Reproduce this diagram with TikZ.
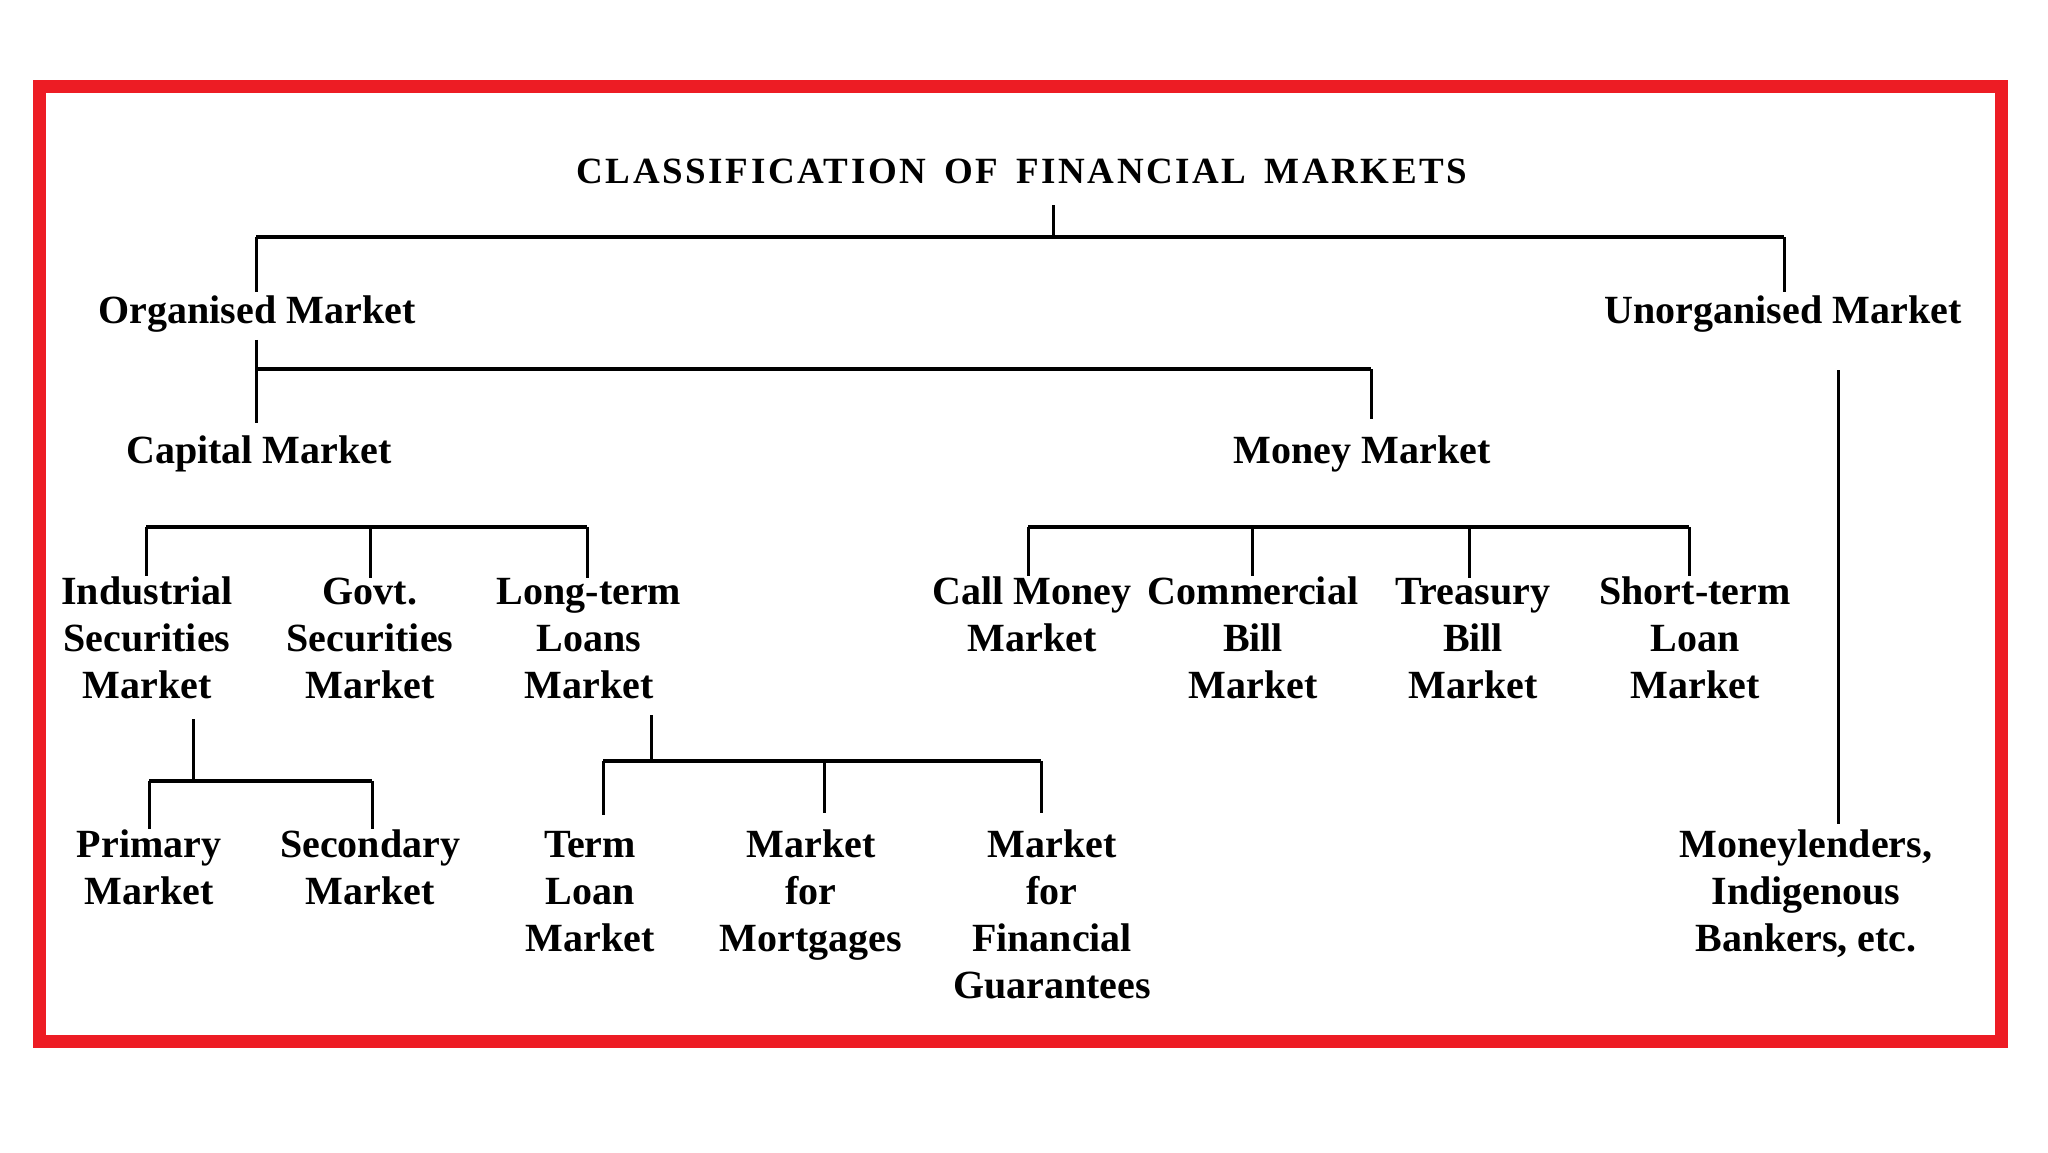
\documentclass[tikz,border=0pt]{standalone}
\usepackage{fontspec}
\setmainfont{Liberation Serif}
\newfontfamily\titlefont{Liberation Serif}[LetterSpace=7.0]
\definecolor{frame}{RGB}{237,28,36}
\begin{document}
\begin{tikzpicture}[x=0.5pt,y=-0.5pt,
  lbl/.style={font=\fontsize{20}{23.5}\selectfont\bfseries, align=center, anchor=base, inner sep=0pt, outer sep=0pt},
  hline/.style={line width=2pt, black},
  vline/.style={line width=1.5pt, black},
  redframe/.style={line width=6.5pt, draw=frame}]
\useasboundingbox (0,0) rectangle (2048,1152);
\fill[white] (0,0) rectangle (2048,1152);
\draw[redframe] (39,86) rectangle (2001,1041);

% nodes (anchor=base is the baseline of the last line)
\node[anchor=base, inner sep=0pt, outer sep=0pt] (title) at (1022,183)
  {\titlefont\bfseries\fontsize{18.5}{20}\selectfont CLASSIFICATION\hspace{9pt}OF\hspace{9pt}FINANCIAL\hspace{9pt}MARKETS};
\node[lbl] (org) at (257,323) {Organised Market};
\node[lbl] (unorg) at (1783,323) {Unorganised Market};
\node[lbl] (cap) at (259,463) {Capital Market};
\node[lbl] (mon) at (1362,463) {Money Market};
\node[lbl] (ind) at (147,698) {Industrial\\Securities\\Market};
\node[lbl] (gov) at (370,698) {Govt.\\Securities\\Market};
\node[lbl] (ltl) at (589,698) {Long-term\\Loans\\Market};
\node[lbl] (call) at (1032,651) {Call Money\\Market};
\node[lbl] (comm) at (1253,698) {Commercial\\Bill\\Market};
\node[lbl] (tre) at (1473,698) {Treasury\\Bill\\Market};
\node[lbl] (stl) at (1695,698) {Short-term\\Loan\\Market};
\node[lbl] (pri) at (149,904) {Primary\\Market};
\node[lbl] (sec) at (370,904) {Secondary\\Market};
\node[lbl] (term) at (590,951) {Term\\Loan\\Market};
\node[lbl] (mort) at (811,951) {Market\\for\\Mortgages};
\node[lbl] (fin) at (1052,998) {Market\\for\\Financial\\Guarantees};
\node[lbl] (mlend) at (1806,951) {Moneylenders,\\Indigenous\\Bankers, etc.};

% junction coordinates
\coordinate (jT) at (1053,237);
\coordinate (jOrg) at (256,237);
\coordinate (jUn) at (1784,237);
\coordinate (jOC) at (256,369);
\coordinate (jOM) at (1371,369);
\coordinate (c1) at (146,527);
\coordinate (c2) at (370,527);
\coordinate (c3) at (587,527);
\coordinate (m1) at (1028,527);
\coordinate (m2) at (1252,527);
\coordinate (m3) at (1469,527);
\coordinate (m4) at (1689,527);
\coordinate (iD) at (193,781);
\coordinate (p1) at (149,781);
\coordinate (p2) at (372,781);
\coordinate (lD) at (651,761);
\coordinate (t1) at (603,761);
\coordinate (t2) at (824,761);
\coordinate (t3) at (1041,761);
\coordinate (uD) at (1838,370);

% top level
\draw[vline, shorten <=11pt] (jT |- title.south) -- (jT);
\draw[hline, line width=1.6pt] (jOrg) -- (jUn);
\draw[vline, shorten >=1.5pt] (jOrg) -- (jOrg |- org.north);
\draw[vline, shorten >=1.5pt] (jUn) -- (jUn |- unorg.north);

% organised -> capital / money
\draw[vline, shorten <=4pt, shorten >=6pt] (jOC |- org.south) -- (jOC |- cap.north);
\draw[hline] (jOC) -- (jOM);
\draw[vline, shorten >=8pt] (jOM) -- (jOM |- mon.north);

% capital market children
\draw[hline] (c1) -- (c3);
\draw[vline] (c1) -- (c1 |- ind.north);
\draw[vline] (c2) -- (c2 |- gov.north);
\draw[vline] (c3) -- (c3 |- ltl.north);

% money market children
\draw[hline, line width=1.8pt] (m1) -- (m4);
\draw[vline] (m1) -- (m1 |- call.north);
\draw[vline] (m2) -- (m2 |- comm.north);
\draw[vline] (m3) -- (m3 |- tre.north);
\draw[vline] (m4) -- (m4 |- stl.north);

% industrial securities -> primary / secondary
\draw[vline, shorten <=10.5pt] (iD |- ind.south) -- (iD);
\draw[hline] (p1) -- (p2);
\draw[vline] (p1) -- (p1 |- pri.north);
\draw[vline] (p2) -- (p2 |- sec.north);

% long-term loans -> three
\draw[vline, shorten <=8.5pt] (lD |- ltl.south) -- (lD);
\draw[hline, line width=1.8pt] (t1) -- (t3);
\draw[vline, shorten >=8pt] (t1) -- (t1 |- term.north);
\draw[vline, shorten >=8pt] (t2) -- (t2 |- mort.north);
\draw[vline, shorten >=8pt] (t3) -- (t3 |- fin.north);

% unorganised -> moneylenders
\draw[vline, shorten >=2.5pt] (uD) -- (uD |- mlend.north);
\end{tikzpicture}
\end{document}
